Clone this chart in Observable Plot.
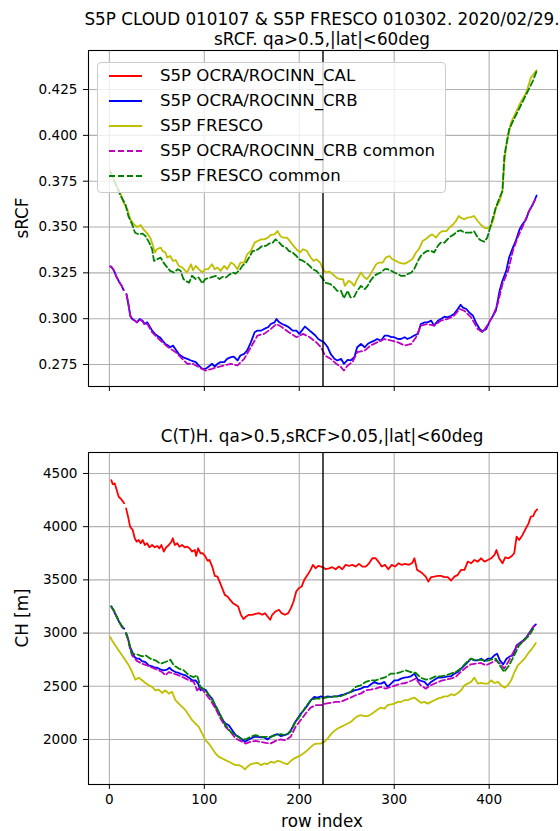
<!DOCTYPE html>
<html><head><meta charset="utf-8">
<script src="https://cdn.jsdelivr.net/npm/d3@7"></script>
<script src="https://cdn.jsdelivr.net/npm/@observablehq/plot@0.6"></script>
<style>
body{margin:0;background:#fff;}
#fig{position:relative;width:560px;height:831px;font-family:"DejaVu Sans",sans-serif;color:#000;overflow:hidden;background:#fff;}
.pl{position:absolute;left:0;}
.t{position:absolute;white-space:nowrap;transform:translate(-50%,-50%);font-size:16.8px;line-height:1;}
#legend{position:absolute;left:97px;top:62px;width:347px;height:129px;border:1px solid #cccccc;border-radius:4px;background:rgba(255,255,255,0.8);}
.lr{position:absolute;left:0;height:20px;}
.lr span{position:absolute;left:62px;top:0;font-size:16.6px;line-height:20px;white-space:nowrap;}
.lr svg{position:absolute;left:10px;top:0;}
</style></head><body><div id="fig"></div>
<script>
// ---------- data ----------
const rowTicks = [0, 100, 200, 300, 400];
const srcfTicks = [0.275, 0.300, 0.325, 0.350, 0.375, 0.400, 0.425];
const chTicks = [2000, 2500, 3000, 3500, 4000, 4500];
const splitRow = 225;

const seriesNames = ["S5P OCRA/ROCINN_CAL", "S5P OCRA/ROCINN_CRB", "S5P FRESCO", "S5P OCRA/ROCINN_CRB common", "S5P FRESCO common"];
const seriesColors = ["#ff0000", "#0000ff", "#bfbf00", "#bf00bf", "#008000"];
const seriesDashed = [false, false, false, true, true];

// sRCF panel: [row, value]  (NaN = missing row)
const srcfCrb = [[1,0.3285],[2,0.3283],[5,0.3261],[7,0.3234],[10,0.3203],[13,0.3179],[15,0.3156],[16.3,NaN],[18,0.3134],[20,0.308],[22,0.3016],[24,0.2998],[27,0.2989],[29,0.298],[32,0.2998],[35,0.2989],[37,0.2971],[40,0.298],[42,0.2962],[45,0.2935],[48,0.2917],[50,0.2908],[53,0.2899],[56,0.288],[59,0.2862],[62,0.2853],[64,0.2844],[67,0.2853],[70,0.283],[73,0.2808],[75,0.2799],[79,0.2786],[82,0.2781],[86,0.2772],[88,0.2768],[91,0.2763],[94,0.2745],[98,0.2726],[101,0.2726],[104,0.2736],[108,0.2754],[111,0.2739],[114,0.2754],[117,0.2763],[121,0.2763],[124,0.2781],[128,0.279],[131,0.2793],[135,0.2772],[138,0.2799],[142,0.2808],[145,0.2826],[149,0.2871],[153,0.2926],[156,0.2935],[160,0.2935],[163,0.2944],[167,0.2953],[170,0.2971],[174,0.298],[176,0.2998],[179,0.298],[182,0.2971],[186,0.2962],[189,0.2953],[193,0.2935],[197,0.2935],[200,0.2917],[204,0.2944],[206,0.2957],[210,0.2939],[213,0.2926],[217,0.2908],[220,0.2889],[223,0.288],[226,0.2871],[230,0.2844],[233,0.2808],[237,0.2781],[240,0.2772],[244,0.2781],[247,0.2754],[251,0.2775],[254,0.2772],[258,0.279],[261,0.2844],[265,0.2862],[269,0.2844],[272,0.2862],[275,0.2871],[279,0.288],[282,0.2889],[286,0.288],[290,0.2908],[293,0.2908],[297,0.2899],[300,0.2899],[304,0.2889],[307,0.2889],[311,0.2899],[314,0.2889],[318,0.2899],[321,0.2908],[325,0.2917],[328,0.2971],[332,0.298],[335,0.298],[339,0.2989],[342,0.2962],[346,0.2989],[349,0.2998],[353,0.3011],[356,0.3007],[360,0.3016],[363,0.3025],[367,0.3053],[370,0.3076],[372,0.3062],[376,0.3053],[379,0.3034],[383,0.3016],[386,0.298],[390,0.2944],[393,0.2931],[397,0.2944],[400,0.298],[404,0.3016],[407,0.3043],[411,0.3152],[414,0.3207],[418,0.3261],[421,0.3333],[425,0.3388],[428,0.3424],[432,0.3487],[435,0.3514],[439,0.3542],[442,0.3587],[446,0.3623],[450,0.3672]];
const srcfFresco = [[1,0.381],[5,0.3755],[9,0.3712],[12,0.3678],[15,0.3632],[19,0.3596],[22,0.3542],[26,0.3514],[29,0.35],[33,0.3511],[36,0.3487],[40,0.3464],[43,0.3442],[46,0.3397],[48,0.3361],[50,0.3379],[54,0.3388],[56,0.337],[59,0.3361],[61,0.3333],[64,0.3342],[67,0.3315],[70,0.3319],[73,0.3288],[77,0.3279],[80,0.3261],[82,0.3252],[86,0.3297],[88,0.3264],[91,0.3288],[94,0.327],[98,0.3252],[101,0.327],[104,0.327],[108,0.3297],[111,0.327],[114,0.3279],[117,0.3261],[121,0.3288],[124,0.327],[128,0.3306],[131,0.3297],[135,0.327],[138,0.3306],[142,0.3306],[145,0.3351],[149,0.337],[153,0.3415],[156,0.3424],[160,0.3433],[163,0.3433],[167,0.3442],[170,0.3457],[174,0.346],[177,0.3478],[180,0.3451],[183,0.3442],[187,0.3442],[190,0.3424],[194,0.3397],[197,0.3379],[201,0.3361],[204,0.3379],[208,0.337],[211,0.3342],[215,0.3315],[218,0.3324],[222,0.3306],[225,0.327],[228,0.3252],[232,0.3257],[235,0.3243],[239,0.3225],[242,0.3216],[246,0.3216],[248,0.3179],[252,0.3207],[255,0.3197],[258,0.3179],[261,0.3216],[265,0.3252],[268,0.3228],[271,0.3216],[274,0.3234],[277,0.3261],[281,0.3297],[284,0.3306],[288,0.3306],[291,0.3333],[295,0.3342],[298,0.3324],[302,0.3315],[305,0.3306],[309,0.3301],[312,0.3301],[316,0.3315],[319,0.3324],[323,0.3361],[326,0.3379],[330,0.3424],[333,0.3433],[337,0.3451],[340,0.346],[344,0.3442],[348,0.3469],[351,0.3478],[355,0.3478],[358,0.3496],[362,0.3514],[365,0.3533],[368,0.356],[370,0.3551],[374,0.3542],[377,0.3551],[381,0.3554],[384,0.356],[388,0.3533],[391,0.3514],[395,0.3496],[398,0.3493],[402,0.3505],[405,0.3551],[407,0.3605],[411,0.3641],[414,0.3696],[416,0.385],[418,0.3942],[423,0.4069],[428,0.4124],[433,0.4178],[439,0.4233],[444,0.4315],[450,0.4355]];
const srcfCrbCommon = [[1,0.3285],[2,0.3283],[5,0.3261],[7,0.3234],[10,0.3203],[13,0.3179],[15,0.3156],[16.3,NaN],[18,0.3134],[20,0.308],[22,0.3016],[24,0.2998],[27,0.2989],[29,0.298],[32,0.2995],[35,0.2985],[37,0.2968],[40,0.2971],[45,0.2926],[50,0.2899],[56,0.2871],[62,0.2844],[70,0.2817],[75,0.279],[82,0.2754],[88,0.2754],[94,0.2736],[101,0.2717],[108,0.2726],[114,0.2736],[121,0.2745],[128,0.2754],[135,0.2745],[142,0.2781],[149,0.2844],[156,0.2908],[163,0.2917],[170,0.2944],[176,0.2971],[182,0.2953],[189,0.2926],[197,0.2899],[204,0.2917],[211,0.2899],[218,0.2871],[223,0.2844],[227,0.2799],[233,0.2781],[239,0.2754],[244,0.2736],[247,0.2717],[251,0.2745],[256,0.2763],[261,0.2817],[269,0.2826],[275,0.2853],[282,0.2871],[290,0.2889],[297,0.288],[304,0.2871],[311,0.2853],[318,0.2862],[323,0.2899],[328,0.2962],[335,0.2971],[342,0.2962],[349,0.2989],[356,0.2998],[363,0.3016],[369,0.3053],[374,0.3043],[381,0.3007],[388,0.2944],[393,0.2926],[398,0.2962],[404,0.3016],[409,0.308],[414,0.3188],[420,0.3261],[425,0.337],[430,0.3442],[437,0.3524],[442,0.3587],[450,0.3663]];
const srcfFrescoCommon = [[1,0.38],[6,0.374],[12,0.3669],[17,0.3623],[20,0.356],[24,0.3514],[27,0.3469],[31,0.346],[35,0.3464],[38,0.3451],[42,0.3415],[45,0.3379],[47,0.3315],[50,0.3324],[54,0.3333],[57,0.3306],[61,0.3279],[64,0.3261],[68,0.3252],[72,0.327],[75,0.3261],[78,0.3216],[80,0.3207],[84,0.3197],[87,0.3234],[91,0.3216],[94,0.3225],[98,0.3192],[101,0.3216],[107,0.3225],[112,0.3234],[116,0.3216],[119,0.3228],[123,0.3225],[126,0.3239],[130,0.3252],[133,0.3246],[137,0.3264],[140,0.3288],[144,0.3306],[147,0.3333],[151,0.337],[154,0.337],[158,0.3384],[161,0.3397],[165,0.3397],[168,0.3409],[172,0.3415],[175,0.3433],[179,0.3415],[182,0.3397],[186,0.3388],[189,0.337],[193,0.3361],[197,0.3342],[200,0.3324],[204,0.3315],[207,0.3306],[211,0.3288],[214,0.327],[218,0.3261],[221,0.3243],[225,0.3216],[228,0.3195],[233,0.3188],[237,0.317],[240,0.3152],[244,0.3152],[247,0.3112],[251,0.3152],[254,0.3116],[258,0.312],[261,0.3152],[265,0.3179],[269,0.3161],[272,0.3179],[275,0.3207],[279,0.3234],[282,0.3243],[286,0.3252],[290,0.327],[293,0.327],[297,0.3261],[300,0.3252],[304,0.3243],[307,0.3234],[311,0.3234],[314,0.3243],[318,0.3252],[321,0.327],[325,0.3315],[328,0.3342],[332,0.3361],[335,0.337],[339,0.337],[342,0.3361],[346,0.3397],[349,0.3415],[353,0.3415],[356,0.3433],[360,0.3451],[363,0.346],[367,0.3478],[370,0.3482],[374,0.3469],[377,0.3469],[381,0.3469],[384,0.3478],[388,0.3442],[391,0.3428],[395,0.342],[398,0.3442],[400,0.3478],[404,0.3551],[407,0.3605],[411,0.366],[414,0.3696],[416,0.3887],[421,0.4033],[426,0.4087],[433,0.416],[440,0.4233],[446,0.4296],[450,0.4351]];

// CH panel: [row, metres]  (NaN = missing row)
const chCal = [[2,4437],[3.5,4400],[5.6,4406],[7.7,4344],[9.8,4281],[12.7,4256],[15.5,4219],[16.5,NaN],[17.6,4172],[19.7,4094],[21.8,4000],[23.2,3984],[24.6,3969],[26.7,3891],[28.8,3859],[30.9,3875],[33,3844],[35.1,3875],[37.3,3828],[39.7,3844],[42.2,3806],[45,3828],[47.8,3806],[50.3,3819],[52.7,3797],[54.8,3828],[57.3,3766],[59.8,3806],[62.6,3828],[65.4,3859],[66.8,3891],[68.9,3828],[71.4,3844],[73.8,3812],[76.6,3828],[79.4,3806],[81.9,3812],[84.4,3797],[87.2,3766],[90,3781],[91.4,3725],[93.5,3797],[96,3750],[98.4,3750],[101.2,3719],[103.3,3681],[105.4,3688],[108.3,3625],[111.1,3537],[113.9,3531],[116.7,3469],[118.8,3422],[121.6,3359],[124.4,3344],[127.2,3312],[130.1,3281],[132.9,3266],[135.7,3250],[138.5,3172],[141.3,3131],[144.1,3156],[146.9,3172],[150.4,3172],[153.9,3181],[157.5,3187],[161,3172],[163.8,3187],[166.6,3156],[169.4,3125],[171.5,3172],[175,3203],[178.6,3219],[181.4,3187],[184.9,3172],[188.4,3187],[191.2,3234],[194,3297],[196.8,3391],[199.6,3422],[202.5,3437],[205.3,3500],[208.8,3547],[211.9,3594],[214.4,3641],[217.2,3609],[220,3631],[222.8,3625],[225,3619],[227.8,3600],[231.3,3609],[234.8,3619],[238.3,3600],[241.8,3625],[245.3,3600],[248.9,3641],[252.4,3631],[255.9,3641],[259.4,3625],[263,3650],[266.4,3625],[270,3625],[273.5,3656],[277,3703],[280.5,3703],[283.3,3672],[286.8,3625],[290.3,3641],[293.8,3600],[297.4,3641],[300.9,3625],[304.4,3656],[307.9,3641],[311.4,3650],[315.6,3641],[319.2,3662],[321.3,3703],[324.1,3594],[326.9,3578],[329.7,3562],[333.2,3531],[336,3484],[338.8,3525],[342.4,3531],[345.9,3537],[349.4,3537],[352.9,3525],[356.4,3525],[359.9,3494],[363.4,3531],[367,3547],[370.5,3594],[374,3594],[377.5,3672],[381,3656],[384.5,3687],[388,3672],[391.6,3703],[395.1,3672],[398.6,3687],[402.1,3703],[405.6,3734],[407.7,3781],[410.5,3703],[414.1,3656],[416.9,3712],[420.4,3703],[423.9,3725],[426.4,3750],[428.9,3906],[431.6,3875],[435.2,3922],[438.7,3984],[441.5,4031],[443.9,4094],[446.4,4100],[448.5,4141],[450.6,4162]];
const chCrb = [[2,3250],[4.6,3212],[7,3166],[10.5,3103],[13.4,3062],[15.5,3041],[16.5,NaN],[17.6,3000],[19.7,2947],[21.8,2869],[24.2,2822],[26,2781],[28.8,2759],[31.6,2759],[34.4,2737],[38,2728],[41.5,2697],[45,2687],[47.8,2675],[50.6,2675],[54.1,2656],[57.6,2650],[60.5,2656],[63.3,2675],[66.1,2650],[69.6,2634],[73.1,2625],[76.6,2612],[80.1,2603],[83.7,2581],[87.2,2556],[90.7,2556],[93.5,2525],[96,2462],[98.4,2478],[101.9,2462],[104.7,2416],[108.3,2384],[111.1,2322],[113.9,2275],[116.7,2228],[119.5,2181],[122.3,2150],[125.8,2134],[129.4,2087],[132.9,2041],[136.4,2025],[139.9,2000],[142.7,1978],[145.5,1994],[149,2009],[152.5,2025],[156.1,2025],[159.6,2019],[163.1,2019],[166.6,2000],[170.1,2025],[173.6,2041],[177.2,2050],[180.7,2031],[184.2,2041],[187.7,2050],[191.2,2087],[194.7,2150],[198.2,2197],[201.8,2244],[205.3,2281],[208.8,2322],[212.3,2369],[215.8,2400],[219.3,2394],[222.8,2406],[226.4,2394],[229.9,2406],[233.4,2400],[236.9,2406],[240.4,2406],[243.9,2416],[247.5,2425],[251,2437],[254.5,2447],[258,2462],[261.5,2469],[265,2478],[268.5,2494],[272.1,2494],[275.6,2519],[279.1,2541],[282.6,2525],[286.1,2525],[289.6,2541],[293.1,2494],[296.7,2525],[300.2,2556],[303.7,2556],[307.2,2572],[310.7,2581],[314.2,2587],[317.7,2594],[321.3,2619],[324.8,2562],[328.3,2550],[331.8,2541],[335.3,2509],[338.8,2541],[342.4,2562],[345.9,2581],[349.4,2581],[352.9,2587],[356.4,2594],[359.9,2594],[363.4,2619],[367,2634],[370.5,2666],[374,2697],[377.5,2728],[381,2759],[384.5,2744],[388,2744],[391.6,2759],[395.1,2737],[398.6,2759],[402.1,2759],[405.6,2791],[408.4,2806],[411.3,2744],[414.8,2706],[418.3,2759],[421.8,2781],[425.3,2791],[428.8,2884],[432.3,2906],[435.9,2931],[439.4,2962],[442.9,3009],[446.4,3056],[449.2,3081]];
const chFresco = [[1,2962],[2.8,2931],[6.3,2884],[9.8,2837],[13.4,2791],[16.9,2744],[20.4,2697],[23.9,2634],[27.4,2562],[30.9,2581],[34.4,2556],[38,2531],[41.5,2509],[45,2494],[48.5,2462],[52,2469],[55.5,2437],[59,2462],[62.6,2431],[66.1,2447],[69.6,2369],[73.1,2337],[76.6,2306],[80.1,2275],[83.7,2228],[87.2,2181],[90.7,2150],[94.2,2119],[97.7,2056],[101.2,1994],[104.7,1962],[108.3,1916],[111.8,1869],[115.3,1837],[118.8,1822],[122.3,1806],[125.8,1791],[129.4,1775],[132.9,1759],[136.4,1759],[139.9,1744],[142.7,1719],[145.5,1744],[149,1769],[152.5,1775],[156.1,1781],[159.6,1759],[163.1,1775],[166.6,1769],[170.1,1791],[173.6,1781],[177.2,1800],[180.7,1791],[184.2,1775],[187.7,1769],[191.2,1800],[194.7,1822],[198.2,1837],[201.8,1853],[205.3,1875],[208.8,1900],[212.3,1931],[215.8,1956],[219.3,1962],[222.8,1962],[226.4,1978],[229.9,2009],[233.4,2050],[236.9,2081],[240.4,2103],[243.9,2119],[247.5,2134],[251,2150],[254.5,2166],[258,2197],[261.5,2219],[265,2228],[268.5,2219],[272.1,2219],[275.6,2237],[279.1,2259],[282.6,2281],[286.1,2300],[289.6,2291],[293.1,2322],[296.7,2331],[300.2,2337],[303.7,2353],[307.2,2353],[310.7,2369],[314.2,2369],[317.7,2384],[321.3,2394],[324.8,2369],[328.3,2344],[331.8,2353],[335.3,2337],[338.8,2353],[342.4,2369],[345.9,2384],[349.4,2394],[352.9,2406],[356.4,2406],[359.9,2425],[363.4,2416],[367,2437],[370.5,2462],[374,2509],[377.5,2525],[381,2541],[384.5,2581],[388,2525],[391.6,2531],[395.1,2525],[398.6,2525],[402.1,2556],[405.6,2531],[409.2,2541],[412.7,2509],[416.2,2487],[419.7,2509],[423.2,2556],[426.7,2634],[430.2,2697],[433.7,2728],[437.3,2759],[440.8,2806],[444.3,2844],[449.2,2906]];
const chCrbCommon = [[2,3250],[4.6,3212],[7,3166],[10.5,3100],[13.4,3055],[15.5,3030],[16.5,NaN],[17.6,2990],[19.7,2935],[21.8,2850],[23.9,2791],[29.2,2737],[34.4,2712],[39.7,2697],[45,2675],[50.3,2656],[55.5,2634],[59,2603],[62.6,2634],[67.8,2619],[73.1,2603],[78.4,2581],[83.7,2556],[88.9,2541],[92.4,2462],[96,2494],[101.2,2431],[106.5,2369],[111.8,2291],[117,2197],[122.3,2119],[127.6,2072],[132.9,2009],[138.1,1987],[143.4,1962],[148.7,1978],[154,1987],[159.2,1978],[164.5,1969],[169.8,1962],[175,1987],[180.3,2000],[185.6,1994],[190.9,2025],[196.1,2119],[201.4,2181],[206.7,2244],[212,2300],[217.2,2322],[222.5,2322],[227.8,2337],[233,2344],[238.3,2353],[243.6,2353],[248.9,2375],[254.1,2394],[259.4,2416],[264.7,2431],[270,2462],[275.2,2469],[280.5,2478],[285.8,2494],[291,2478],[296.3,2494],[301.6,2509],[306.9,2525],[312.1,2531],[317.4,2550],[322.7,2572],[327.9,2509],[333.2,2478],[338.5,2509],[343.8,2531],[349,2550],[354.3,2562],[359.6,2572],[364.8,2587],[370.1,2634],[375.4,2675],[380.7,2706],[386,2712],[391.2,2719],[396.5,2697],[401.8,2719],[407.1,2744],[412.3,2706],[415.9,2666],[421.1,2744],[426.4,2837],[431.6,2900],[436.9,2931],[442.2,2994],[447.5,3072]];
const chFrescoCommon = [[2,3250],[4.6,3212],[7,3166],[10.5,3103],[13.4,3062],[15.5,3041],[16.5,NaN],[17.6,3000],[19.7,2947],[21.8,2869],[23.9,2806],[29.2,2800],[34.4,2781],[38,2791],[43.2,2759],[48.5,2744],[53.8,2712],[59,2728],[64.3,2750],[67.8,2697],[73.1,2666],[78.4,2650],[83.7,2603],[88.9,2587],[92.4,2603],[96,2494],[101.2,2462],[106.5,2400],[111.8,2322],[117,2228],[122.3,2134],[127.6,2072],[132.9,2041],[138.1,2009],[143.4,2000],[148.7,2025],[154,2041],[159.2,2025],[164.5,2025],[169.8,2025],[175,2041],[180.3,2050],[185.6,2041],[190.9,2072],[196.1,2166],[201.4,2228],[206.7,2306],[212,2369],[217.2,2384],[222.5,2384],[227.8,2394],[233,2400],[238.3,2406],[243.6,2406],[248.9,2425],[254.1,2447],[259.4,2494],[264.7,2509],[270,2541],[275.2,2556],[280.5,2556],[285.8,2572],[291,2587],[296.3,2619],[301.6,2619],[306.9,2634],[312.1,2650],[317.4,2634],[322.7,2625],[327.9,2581],[333.2,2562],[338.5,2572],[343.8,2594],[349,2594],[354.3,2603],[359.6,2619],[364.8,2634],[370.1,2666],[375.4,2719],[380.7,2759],[386,2744],[391.2,2750],[396.5,2737],[401.8,2750],[407.1,2759],[412.3,2681],[415.9,2634],[421.1,2697],[426.4,2791],[431.6,2884],[436.9,2931],[442.2,2978],[447.5,3056]];

const titleLine1 = "S5P CLOUD 010107 & S5P FRESCO 010302. 2020/02/29.";
const titleLine2 = "sRCF. qa>0.5,|lat|<60deg";
const title2 = "C(T)H. qa>0.5,sRCF>0.05,|lat|<60deg";
const xLabel = "row index";
const yLabel1 = "sRCF";
const yLabel2 = "CH [m]";

// ---------- drawing ----------
const fig = document.getElementById("fig");
const grid = {stroke: "#b0b0b0", strokeOpacity: 1, strokeWidth: 1.1};

function lineMark(data, i) {
  return Plot.line(data, {x: d => d[0], y: d => d[1], stroke: seriesColors[i], strokeWidth: 1.8,
    strokeDasharray: seriesDashed[i] ? "6,3" : null, strokeLinejoin: "round"});
}

function panel({top, height, mt, mb, yDomain, yTicks, yFmt, showXLabels, lines}) {
  const p = Plot.plot({
    width: 560, height, marginLeft: 88, marginRight: 3, marginTop: mt, marginBottom: mb,
    style: {fontFamily: "'DejaVu Sans', sans-serif", fontSize: "13.6px", background: "transparent", color: "#000", overflow: "visible"},
    x: {domain: [-22, 472]},
    y: {domain: yDomain},
    marks: [
      Plot.gridX(rowTicks, grid),
      Plot.gridY(yTicks, grid),
      ...lines,
      Plot.ruleX([splitRow], {stroke: "#000", strokeWidth: 1.4}),
      Plot.frame({stroke: "#000", strokeWidth: 1.1}),
      Plot.axisX(rowTicks, {tickSize: 5, tickPadding: 5, label: null, fontSize: 13.6,
        tickFormat: showXLabels ? d3.format("d") : () => ""}),
      Plot.axisY(yTicks, {tickSize: 5, tickPadding: 6, label: null, fontSize: 13.6, tickFormat: yFmt})
    ]
  });
  p.classList.add("pl");
  p.style.top = top + "px";
  fig.appendChild(p);
}

panel({top: 0, height: 400, mt: 50, mb: 14, yDomain: [0.263, 0.4463], yTicks: srcfTicks,
  yFmt: d3.format(".3f"), showXLabels: false,
  lines: [lineMark(srcfCrb, 1), lineMark(srcfFresco, 2), lineMark(srcfCrbCommon, 3), lineMark(srcfFrescoCommon, 4)]});

panel({top: 400, height: 431, mt: 52, mb: 47, yDomain: [1577, 4697], yTicks: chTicks,
  yFmt: d3.format("d"), showXLabels: true,
  lines: [lineMark(chCal, 0), lineMark(chCrb, 1), lineMark(chFresco, 2), lineMark(chCrbCommon, 3), lineMark(chFrescoCommon, 4)]});

function addText(txt, x, y, rot) {
  const d = document.createElement("div");
  d.className = "t";
  d.textContent = txt;
  d.style.left = x + "px";
  d.style.top = y + "px";
  if (rot) d.style.transform = "translate(-50%,-50%) rotate(-90deg)";
  fig.appendChild(d);
}
addText(titleLine1, 322, 19);
addText(titleLine2, 322, 39);
addText(title2, 322, 436);
addText(xLabel, 322, 821);
addText(yLabel1, 22, 218, true);
addText(yLabel2, 22, 618, true);

// legend
const lg = document.createElement("div");
lg.id = "legend";
seriesNames.forEach((name, i) => {
  const r = document.createElement("div");
  r.className = "lr";
  r.style.top = (3 + 25 * i) + "px";
  r.innerHTML = `<svg width="36" height="20"><line x1="1" x2="34" y1="10" y2="10" stroke="${seriesColors[i]}" stroke-width="1.8" ${seriesDashed[i] ? 'stroke-dasharray="6,3"' : ""}/></svg><span></span>`;
  r.querySelector("span").textContent = name;
  lg.appendChild(r);
});
fig.appendChild(lg);
</script></body></html>
